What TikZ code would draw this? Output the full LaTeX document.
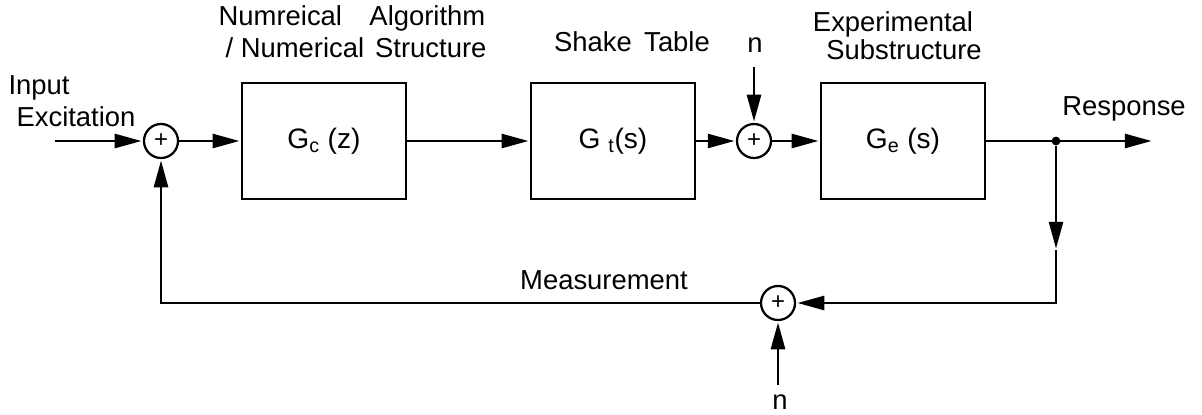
\documentclass[tikz,border=0pt]{standalone}
\usepackage{fontspec}
\setmainfont{Liberation Sans}
\usetikzlibrary{arrows.meta}

\tikzset{
  blk/.style={draw, line width=1.7pt, minimum width=4.1cm, minimum height=2.9cm,
    inner sep=0pt, font=\fontsize{20}{22}\selectfont},
  sumnode/.style={draw, circle, line width=1.6pt, minimum size=0.85cm,
    inner sep=0pt, font=\fontsize{17}{17}\selectfont},
  lbl/.style={font=\fontsize{19.5}{22}\selectfont},
  sig/.style={line width=1.7pt, -{Triangle[length=19pt,width=10pt]}, shorten >=1pt},
}

\begin{document}
\begin{tikzpicture}[x=0.025cm, y=-0.025cm]
  \useasboundingbox (0,0) rectangle (1202,414);

  % forward path
  \node[sumnode] (s1) at (161,141) {+};
  \node[blk] (gc) at (324,141) {G\textsubscript{c} (z)};
  \node[blk] (gt) at (613,141) {G \textsubscript{t}(s)};
  \node[sumnode] (s2) at (754,141) {+};
  \node[blk] (ge) at (903,141) {G\textsubscript{e} (s)};
  \node[circle, fill, inner sep=0pt, minimum size=0.22cm] (jn) at (1056,141) {};

  % feedback path
  \node[sumnode] (s3) at (778,303) {+};

  \coordinate (in) at (55,141);
  \coordinate (out) at (1153,141);
  \coordinate (nt) at (754,67);
  \coordinate (nb) at (778,385);
  \coordinate (dn) at (1056,250);

  \draw[sig] (in) -- (s1);
  \draw[sig] (s1) -- (gc);
  \draw[sig] (gc) -- (gt);
  \draw[sig] (gt) -- (s2);
  \draw[sig] (s2) -- (ge);
  \draw[sig] (ge) -- (out);
  \draw[sig] (nt) -- (s2);
  \draw[sig] (jn) -- (dn);
  \draw[sig] (dn) |- (s3);
  \draw[sig] (s3) -| (s1);
  \draw[sig] (nb) -- (s3);

  % labels
  \node[lbl] (inp) at (39,88) {Input};
  \node[lbl] (exc) at (76,117) {Excitation};
  \node[lbl] (alg) at (352,18) {Numreical\hspace{1em}Algorithm};
  \node[lbl] (nst) at (356,48) {/ Numerical\hspace{0.4em}Structure};
  \node[lbl] (tab) at (632,42) {Shake\hspace{0.45em}Table};
  \node[lbl] (ntop) at (755,45) {n};
  \node[lbl] (exp) at (893,24) {Experimental};
  \node[lbl] (sub) at (904,50) {Substructure};
  \node[lbl] (rsp) at (1124,109) {Response};
  \node[lbl] (msr) at (604,280) {Measurement};
  \node[lbl] (nbot) at (780,402) {n};
\end{tikzpicture}
\end{document}
